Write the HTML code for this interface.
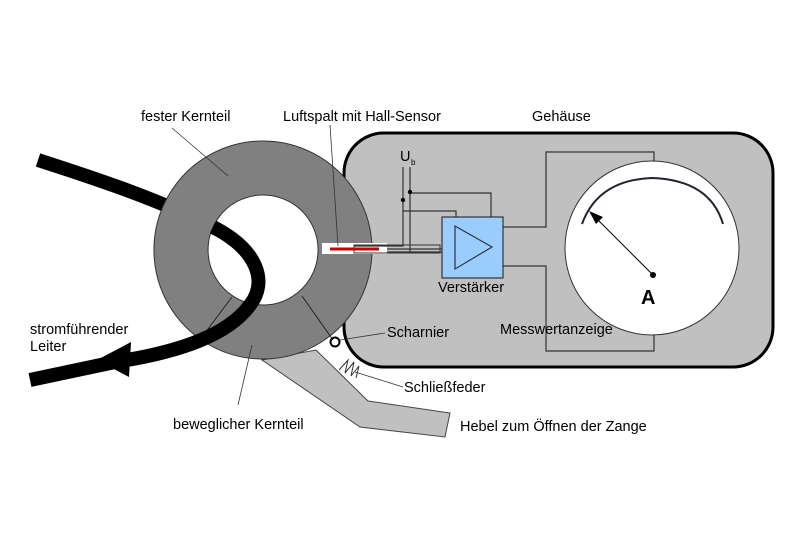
<!DOCTYPE html>
<html><head><meta charset="utf-8"><style>
html,body{margin:0;padding:0;background:#fff;}
svg{display:block;}
text{font-family:"Liberation Sans",sans-serif;font-size:14.5px;fill:#000;}
</style></head><body>
<svg width="800" height="560" viewBox="0 0 800 560" xmlns="http://www.w3.org/2000/svg">
<!-- housing -->
<rect x="344" y="133" width="429" height="234" rx="40" ry="40" fill="#c0c0c0" stroke="#000" stroke-width="3"/>
<!-- lever -->
<polygon points="262,360 316,350 368,401 450,413 445,437 360,427" fill="#c0c0c0" stroke="#444" stroke-width="1"/>
<!-- conductor, part behind ring -->
<path d="M38,160 C100,180 160,200 215,228" fill="none" stroke="#000" stroke-width="14" stroke-linejoin="round"/>
<!-- ring -->
<path d="M263,141 A109,109 0 1 1 262.9,141 Z M263,195 A55,55 0 1 0 263.1,195 Z" fill="#808080" fill-rule="evenodd" stroke="#333" stroke-width="1"/>
<line x1="232" y1="297" x2="202" y2="337" stroke="#222" stroke-width="1"/>
<line x1="302" y1="296" x2="333" y2="340" stroke="#222" stroke-width="1"/>
<!-- air gap/sensor -->
<rect x="322" y="243" width="65" height="11" fill="#fff"/>
<rect x="354" y="245" width="86" height="8" fill="none" stroke="#333" stroke-width="1"/>
<line x1="330" y1="249" x2="379" y2="249" stroke="#cc0000" stroke-width="3"/>
<!-- wires -->
<g stroke="#333" stroke-width="1.2" fill="none">
<polyline points="403,167 403,246 354,246"/>
<polyline points="410,167 410,253"/>
<polyline points="403,211 456,211 456,217"/>
<polyline points="410,193 491,193 491,217"/>
<line x1="387" y1="249" x2="442" y2="249"/>
<line x1="387" y1="252" x2="442" y2="252"/>
<polyline points="503,227 546,227 546,152 654,152 654,162"/>
<polyline points="503,266 546,266 546,351 654,351 654,334"/>
</g>
<circle cx="403" cy="200" r="2.2" fill="#000"/>
<circle cx="410" cy="192" r="2.2" fill="#000"/>
<text x="400" y="161">U</text><text x="411" y="165" style="font-size:8px">b</text>
<!-- amplifier -->
<rect x="442" y="217" width="61" height="61" fill="#99ccff" stroke="#333" stroke-width="1.2"/>
<polygon points="455,226 455,269 492,247" fill="none" stroke="#333" stroke-width="1.2"/>
<!-- meter -->
<circle cx="652" cy="248" r="87" fill="#fff" stroke="#333" stroke-width="1"/>
<path d="M582,224 Q598,180 652,178 Q710,180 723,224" fill="none" stroke="#223" stroke-width="2"/>
<line x1="653" y1="275" x2="597" y2="219" stroke="#000" stroke-width="1"/>
<polygon points="589,211 603,217 596,224" fill="#000"/>
<circle cx="653" cy="275" r="3" fill="#000"/>
<text x="641" y="304" style="font-size:20px;font-weight:bold">A</text>
<!-- hinge & spring -->
<circle cx="335" cy="342" r="4.5" fill="none" stroke="#000" stroke-width="2"/>
<polyline points="339,370 348,360 345,373 354,362 351,376 359,366 356,378" fill="none" stroke="#333" stroke-width="1"/>
<!-- conductor, front part -->
<path d="M213,227 C258,250 268,282 250,305 C228,335 180,352 115,362 L30,380" fill="none" stroke="#000" stroke-width="14" stroke-linejoin="round"/>
<polygon points="97,360 131,342 129,377" fill="#000"/>
<!-- leaders -->
<g stroke="#333" stroke-width="0.8">
<line x1="172" y1="128" x2="228" y2="176"/>
<line x1="330" y1="125" x2="338" y2="246"/>
<line x1="340" y1="340" x2="385" y2="333"/>
<line x1="355" y1="372" x2="403" y2="387"/>
<line x1="252" y1="345" x2="238" y2="405"/>
</g>
<!-- labels -->
<text x="141" y="121">fester Kernteil</text>
<text x="283" y="121">Luftspalt mit Hall-Sensor</text>
<text x="532" y="121">Gehäuse</text>
<text x="30" y="334">stromführender</text>
<text x="30" y="351">Leiter</text>
<text x="387" y="337">Scharnier</text>
<text x="404" y="392">Schließfeder</text>
<text x="173" y="429">beweglicher Kernteil</text>
<text x="460" y="431">Hebel zum Öffnen der Zange</text>
<text x="500" y="334">Messwertanzeige</text>
<text x="438" y="292">Verstärker</text>
</svg>
</body></html>
